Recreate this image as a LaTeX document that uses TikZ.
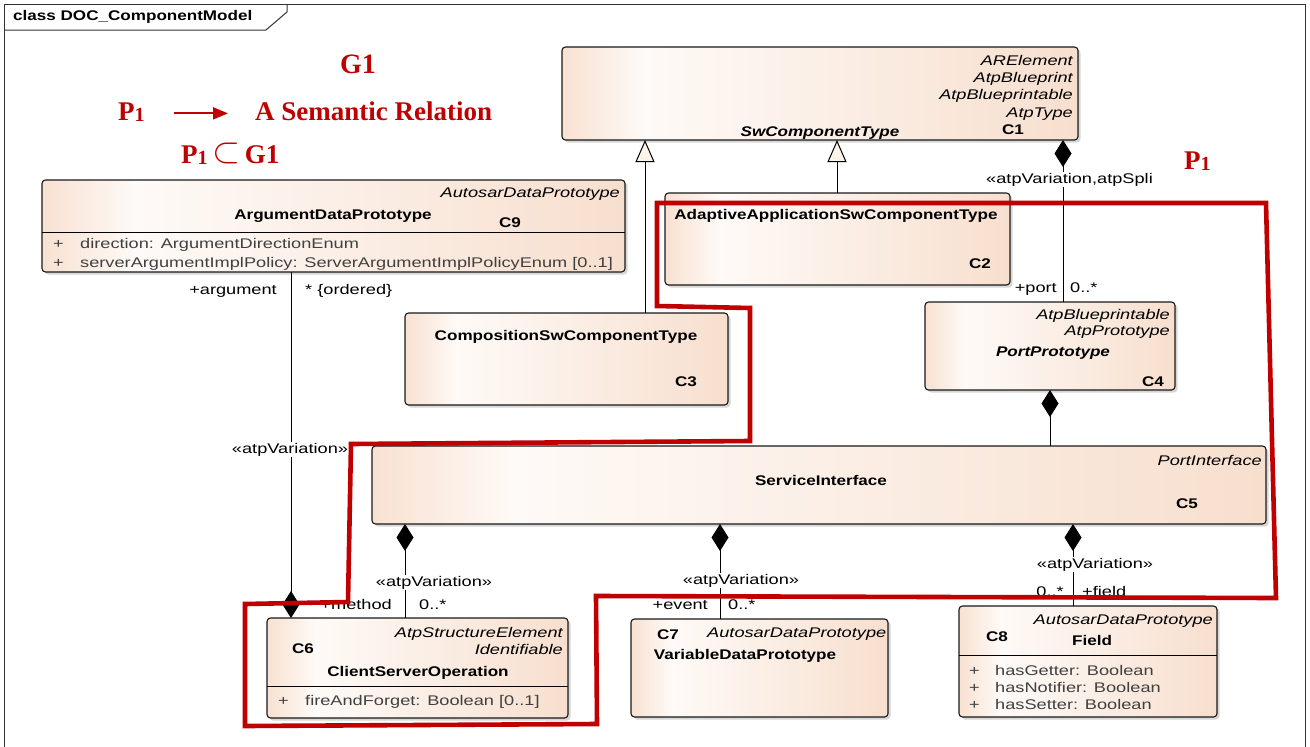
\documentclass[tikz,border=0pt]{standalone}
\usepackage{fontspec}
\setmainfont{Liberation Sans}
\newfontfamily\umlr{Liberation Sans}[FakeStretch=1.3]
\newfontfamily\umlb{Liberation Sans}[FakeStretch=1.22]
\newfontfamily\redserif{Liberation Serif}
\usetikzlibrary{arrows.meta,shadows}

\definecolor{boxA}{HTML}{F8E1D1}
\definecolor{boxW}{HTML}{FEFAF7}
\definecolor{boxB}{HTML}{F7DFCE}
\definecolor{attrgray}{HTML}{404040}
\definecolor{markred}{HTML}{C00000}
\definecolor{gencream}{HTML}{FDF3E8}
\definecolor{framegray}{HTML}{333333}
\pgfdeclarehorizontalshading{umlshade}{100bp}{color(0bp)=(boxA); color(25bp)=(boxA); color(33bp)=(boxW); color(75bp)=(boxB); color(100bp)=(boxB)}

\newcommand\subone{\raisebox{-1.5pt}{\fontsize{20}{20}\selectfont 1}}

\begin{document}
\begin{tikzpicture}[x=1pt,y=-1pt,
  umlbox/.style={draw=black!90, line width=1.1pt, rounded corners=3.5pt, shading=umlshade,
    inner sep=0pt, outer sep=0pt, anchor=north west,
    drop shadow={shadow xshift=2.5pt, shadow yshift=-2.5pt, fill=black, opacity=0.16}},
  txtshift/.style={yshift=-2.5pt},
  stereo/.style={txtshift, inner sep=0pt, anchor=mid east, font=\umlr\itshape\fontsize{14}{16}\selectfont},
  cname/.style={txtshift, inner sep=0pt, anchor=mid, font=\umlb\bfseries\fontsize{14}{16}\selectfont},
  cnameit/.style={txtshift, inner sep=0pt, anchor=mid, font=\umlb\bfseries\itshape\fontsize{14}{16}\selectfont},
  attr/.style={txtshift, inner sep=0pt, anchor=mid west, text=attrgray, font=\umlr\fontsize{14}{16}\selectfont},
  lbl/.style={txtshift, inner sep=0pt, font=\umlr\fontsize{14}{16}\selectfont},
  stlbl/.style={lbl, fill=white, inner sep=1pt, anchor=mid},
  assoc/.style={draw=black, line width=1pt},
  comp/.style={assoc, {Diamond[length=27pt,width=17pt]}-},
  gen/.style={assoc, -{Triangle[length=22pt,width=19pt,fill=gencream]}},
  frameline/.style={draw=framegray, line width=1pt},
  redmark/.style={draw=markred, line width=4.6pt, line join=miter},
  redtxt/.style={text=markred, inner sep=0pt, font=\redserif\bfseries\fontsize{27}{30}\selectfont},
  redarrow/.style={draw=markred, line width=1.8pt, -{Triangle[length=15pt,width=12pt]}}
]
\useasboundingbox (0,0) rectangle (1310,747);
\fill[white] (0,0) rectangle (1310,747);

% diagram frame and its name tab
\draw[frameline] (4,760) -- (4,4) -- (1305,4) -- (1305,760);
\draw[frameline] (4,30) -- (266,30) -- (287,12) -- (287,4);
\node[inner sep=0pt, anchor=mid west, font=\umlb\bfseries\fontsize{14}{16}\selectfont] (title) at (13,18) {class DOC\_ComponentModel};

% classes
\node[umlbox, minimum width=516pt, minimum height=93pt] (c1) at (562,47) {};
\node[stereo] (c1s1) at (1073,60) {ARElement};
\node[stereo] (c1s2) at (1073,77) {AtpBlueprint};
\node[stereo] (c1s3) at (1073,94) {AtpBlueprintable};
\node[stereo] (c1s4) at (1073,112) {AtpType};
\node[cnameit] (c1n) at (820,131) {SwComponentType};
\node[cname] (c1id) at (1013,129) {C1};

\node[umlbox, minimum width=583pt, minimum height=92pt] (c9) at (42,180) {};
\node[stereo] (c9s1) at (620,192) {AutosarDataPrototype};
\node[cname] (c9n) at (333,214) {ArgumentDataPrototype};
\node[cname] (c9id) at (510,222) {C9};
\draw[line width=1pt] (42,232) -- (625,232);
\node[attr] (c9p1) at (53,243) {+};
\node[attr] (c9a1) at (80,243) {direction: ArgumentDirectionEnum};
\node[attr] (c9p2) at (53,262) {+};
\node[attr] (c9a2) at (80,262) {serverArgumentImplPolicy: ServerArgumentImplPolicyEnum [0..1]};

\node[umlbox, minimum width=345pt, minimum height=92pt] (c2) at (665,193) {};
\node[cname] (c2n) at (836,214) {AdaptiveApplicationSwComponentType};
\node[cname] (c2id) at (980,263) {C2};

\node[umlbox, minimum width=323pt, minimum height=92pt] (c3) at (405,313) {};
\node[cname] (c3n) at (566,335) {CompositionSwComponentType};
\node[cname] (c3id) at (686,381) {C3};

\node[umlbox, minimum width=250pt, minimum height=88pt] (c4) at (925,302) {};
\node[stereo] (c4s1) at (1170,314) {AtpBlueprintable};
\node[stereo] (c4s2) at (1170,330) {AtpPrototype};
\node[cnameit] (c4n) at (1053,351) {PortPrototype};
\node[cname] (c4id) at (1153,381) {C4};

\node[umlbox, minimum width=894pt, minimum height=78pt] (c5) at (372,446) {};
\node[stereo] (c5s1) at (1262,460) {PortInterface};
\node[cname] (c5n) at (821,480) {ServiceInterface};
\node[cname] (c5id) at (1187,503) {C5};

\node[umlbox, minimum width=301pt, minimum height=100pt] (c6) at (267,618) {};
\node[stereo] (c6s1) at (563,632) {AtpStructureElement};
\node[stereo] (c6s2) at (563,649) {Identifiable};
\node[cname] (c6id) at (303,648) {C6};
\node[cname] (c6n) at (418,671) {ClientServerOperation};
\draw[line width=1pt] (267,686) -- (568,686);
\node[attr] (c6p1) at (278,700) {+};
\node[attr] (c6a1) at (305,700) {fireAndForget: Boolean [0..1]};

\node[umlbox, minimum width=257pt, minimum height=98pt] (c7) at (631,619) {};
\node[cname] (c7id) at (668,634) {C7};
\node[stereo, anchor=mid west] (c7s1) at (707,632) {AutosarDataPrototype};
\node[cname] (c7n) at (745,654) {VariableDataPrototype};

\node[umlbox, minimum width=258pt, minimum height=111pt] (c8) at (959,606) {};
\node[stereo] (c8s1) at (1213,619) {AutosarDataPrototype};
\node[cname] (c8id) at (997,636) {C8};
\node[cname] (c8n) at (1092,640) {Field};
\draw[line width=1pt] (959,655) -- (1217,655);
\node[attr] (c8p1) at (969,670) {+};
\node[attr] (c8a1) at (995,670) {hasGetter: Boolean};
\node[attr] (c8p2) at (969,687) {+};
\node[attr] (c8a2) at (995,687) {hasNotifier: Boolean};
\node[attr] (c8p3) at (969,704) {+};
\node[attr] (c8a3) at (995,704) {hasSetter: Boolean};

% connector columns
\coordinate (xg3) at (645,0);
\coordinate (xg2) at (837,0);
\coordinate (xport) at (1063,0);
\coordinate (xpi) at (1050,0);
\coordinate (xarg) at (291,0);
\coordinate (xm) at (405,0);
\coordinate (xe) at (720,0);
\coordinate (xf) at (1073,0);

% generalizations
\draw[gen] (c3.north -| xg3) -- (c1.south -| xg3);
\draw[gen] (c2.north -| xg2) -- (c1.south -| xg2);

% compositions
\draw[comp] (c1.south -| xport) -- (c4.north -| xport);
\draw[comp] (c4.south -| xpi) -- (c5.north -| xpi);
\draw[comp] (c6.north -| xarg) -- (c9.south -| xarg);
\draw[comp] (c5.south -| xm) -- (c6.north -| xm);
\draw[comp] (c5.south -| xe) -- (c7.north -| xe);
\draw[comp] (c5.south -| xf) -- (c8.north -| xf);

% connector labels
\node[stlbl, anchor=mid west] (lport) at (985,178) {«atpVariation,atpSpli};
\node[lbl, anchor=mid east] (lportr) at (1057,287) {+port};
\node[lbl, anchor=mid west] (lportm) at (1070,287) {0..*};

\node[lbl, anchor=mid east] (largr) at (277,289) {+argument};
\node[lbl, anchor=mid west] (largm) at (305,289) {* \{ordered\}};
\node[stlbl] (largs) at (290,448) {«atpVariation»};

\node[stlbl] (lms) at (434,581) {«atpVariation»};
\node[lbl, anchor=mid east] (lmr) at (392,604) {+method};
\node[lbl, anchor=mid west] (lmm) at (419,604) {0..*};

\node[stlbl] (les) at (741,579) {«atpVariation»};
\node[lbl, anchor=mid east] (ler) at (708,604) {+event};
\node[lbl, anchor=mid west] (lem) at (728,604) {0..*};

\node[stlbl] (lfs) at (1095,563) {«atpVariation»};
\node[lbl, anchor=mid east] (lfm) at (1064,591) {0..*};
\node[lbl, anchor=mid west] (lfr) at (1082,591) {+field};

% outline of the part P1
\draw[redmark] (657,203) -- (1266,203) -- (1276,598) -- (596,596) -- (597,724)
  -- (245,726) -- (245,604) -- (348,602) -- (351,444) -- (750,441)
  -- (750,308) -- (657,306) -- cycle;

% annotations
\node[redtxt, anchor=base, font=\redserif\bfseries\fontsize{28}{30}\selectfont] (g1) at (358,73) {G1};
\node[redtxt, anchor=base west] (p1a) at (118,120) {P\subone};
\node[redtxt, anchor=base west] (rel) at (255,120) {A Semantic Relation};
\draw[redarrow, shorten <=29pt, shorten >=27pt] ([yshift=4pt]p1a.mid east) -- ([yshift=4pt]rel.mid west);
\node[redtxt, anchor=base west] (p1g) at (181,163) {P\subone\,\raisebox{0.5pt}{\scalebox{1.45}{$\subset$}}\,G1};
\node[redtxt, anchor=base west] (p1b) at (1184,169) {P\subone};
\end{tikzpicture}
\end{document}
